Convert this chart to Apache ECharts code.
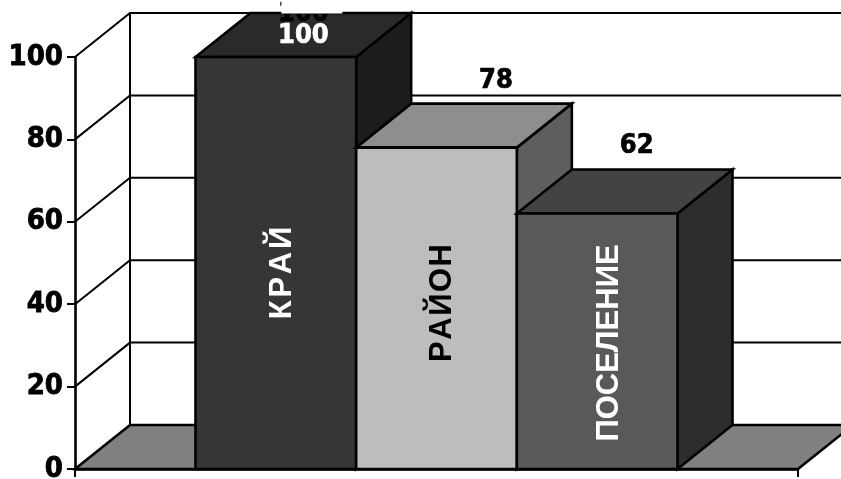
<!DOCTYPE html>
<html><head><meta charset="utf-8">
<style>html,body{margin:0;padding:0;background:#fff}#c{width:841px;height:479px}</style>
<script src="https://cdn.jsdelivr.net/npm/echarts@6/dist/echarts.min.js"></script>
</head><body><div id="c"></div>
<script>
const categories = ['КРАЙ', 'РАЙОН', 'ПОСЕЛЕНИЕ'];
const values = [100, 78, 62];
const yTicks = [0, 20, 40, 60, 80, 100];

const DX = 55, DY = -44, LW = 2, BLW = 2.6;
const faceColors = [
  {front:'#363636', top:'#2a2a2a', side:'#1c1c1c', label:'#fff'},
  {front:'#bdbdbd', top:'#8e8e8e', side:'#5e5e5e', label:'#000'},
  {front:'#595959', top:'#434343', side:'#2d2d2d', label:'#fff'}
];
const valueOffset = [[0,-23],[32,-23],[12,-24]];
const catOffset = [[6.5,273],[5.5,303],[12,343]];
const letterGap = [2.7,1.5,0];
const numFamily = '"DejaVu Sans Condensed", "DejaVu Sans", sans-serif';
const numFont = 'bold 27px ' + numFamily;
const catFont = 'bold 31px "Liberation Sans", Arial, sans-serif';
const line = {stroke:'#000', lineWidth:LW, fill:null};
const measure = document.createElement('canvas').getContext('2d');
measure.font = catFont;

function poly(points, fill){
  return {type:'polygon', shape:{points}, style:{fill, stroke:'#000', lineWidth:BLW, lineJoin:'miter'}};
}
const XMIN = 0, XMAX = 4.5, BAR_START = 0.75;

function renderWalls(params, api){
  const v = api.value(0);
  const a = api.coord([XMIN, v]), end = api.coord([XMAX, v]);
  return {type:'polyline', shape:{points:[a,[a[0]+DX,a[1]+DY],[end[0]+DX,end[1]+DY]]}, style:line};
}
function renderFloor(params, api){
  const a = api.coord([XMIN,0]), b = api.coord([XMAX,0]), t = api.coord([XMIN,100]);
  return {type:'group', children:[
    poly([a,[a[0]+DX,a[1]+DY],[b[0]+DX,b[1]+DY],b], '#808080'),
    {type:'line', shape:{x1:a[0]+DX,y1:a[1]+DY,x2:t[0]+DX,y2:t[1]+DY}, style:line}
  ]};
}
function renderBar(params, api){
  const i = params.dataIndex, c = faceColors[i], v = api.value(1);
  const l = api.coord([BAR_START+i, 0]), r = api.coord([BAR_START+i+1, 0]);
  const tl = api.coord([BAR_START+i, v]), tr = api.coord([BAR_START+i+1, v]);
  const sh = p => [p[0]+DX, p[1]+DY];
  return {type:'group', children:[
    poly([tr, sh(tr), sh(r), r], c.side),
    poly([tl, sh(tl), sh(tr), tr], c.top),
    poly([tl, tr, r, l], c.front)
  ]};
}
function renderCatLabel(params, api){
  const i = params.dataIndex;
  const l = api.coord([BAR_START+i, 0]), r = api.coord([BAR_START+i+1, 0]);
  const x = (l[0]+r[0])/2 + catOffset[i][0];
  const letters = Array.from(categories[i]);
  const widths = letters.map(ch => measure.measureText(ch).width);
  const total = widths.reduce((a,b)=>a+b,0) + letterGap[i]*(letters.length-1);
  let y = catOffset[i][1] + total/2;
  const kids = letters.map((ch,k)=>{
    const el = {type:'text', x, y, rotation:Math.PI/2,
      style:{text:ch, fill:faceColors[i].label, font:catFont, align:'left', verticalAlign:'middle'}};
    y -= widths[k] + letterGap[i];
    return el;
  });
  return {type:'group', children:kids};
}
function renderValue(params, api){
  const i = params.dataIndex, v = api.value(1);
  const tl = api.coord([BAR_START+i, v]), tr = api.coord([BAR_START+i+1, v]);
  const x = (tl[0]+tr[0])/2 + DX/2 + valueOffset[i][0];
  const y = tl[1] + DY + valueOffset[i][1];
  const heavy = c => ({font:numFont, align:'center', verticalAlign:'middle', fill:c, stroke:c, lineWidth:0.7});
  const kids = [{type:'text', x, y, style:Object.assign({text:String(values[i])}, heavy('#000'))}];
  if(i === 0){
    kids[0].y = tl[1] + DY + 1;
    kids.push({type:'rect', shape:{x:x-22, y:0, width:61, height:13.5}, style:{fill:'#fff', stroke:null}});
    kids.push({type:'text', x, y:tl[1]+DY+23, style:Object.assign({text:String(values[i])}, heavy('#fff'))});
  }
  return {type:'group', children:kids};
}
const barData = categories.map((c,i)=>[i, values[i]]);
const chart = echarts.init(document.getElementById('c'), null, {renderer:'canvas'});
chart.setOption({
  animation:false,
  backgroundColor:'#fff',
  grid:{left:75, right:43, top:57, bottom:10, outerBoundsMode:'none'},
  xAxis:{type:'value', min:XMIN, max:XMAX, interval:XMAX, splitLine:{show:false},
    axisLabel:{show:false},
    axisLine:{show:true, onZero:false, lineStyle:{color:'#000', width:BLW}},
    axisTick:{show:true, length:8, lineStyle:{color:'#000', width:LW}}},
  yAxis:{type:'value', min:0, max:100, interval:20, splitLine:{show:false},
    axisLine:{show:true, lineStyle:{color:'#000', width:BLW}},
    axisTick:{show:true, length:8, lineStyle:{color:'#000', width:LW}},
    axisLabel:{color:'#000', margin:12, fontFamily:numFamily, fontWeight:'bold', fontSize:29, padding:[10,0,0,0], textBorderColor:'#000', textBorderWidth:0.8, hideOverlap:false}},
  series:[
    {type:'custom', clip:false, silent:true, z:1, renderItem:renderFloor, data:[[0]], encode:{x:0,y:0}},
    {type:'custom', clip:false, silent:true, z:1, renderItem:renderWalls, data:yTicks.slice(1).map(v=>[v]), encode:{y:0}},
    {type:'custom', clip:false, silent:true, z:3, renderItem:renderBar, data:barData, encode:{x:0,y:1}},
    {type:'custom', clip:false, silent:true, z:4, renderItem:renderCatLabel, data:barData, encode:{x:0,y:1}},
    {type:'custom', clip:false, silent:true, z:4, renderItem:renderValue, data:barData, encode:{x:0,y:1}}
  ]
});
</script></body></html>
